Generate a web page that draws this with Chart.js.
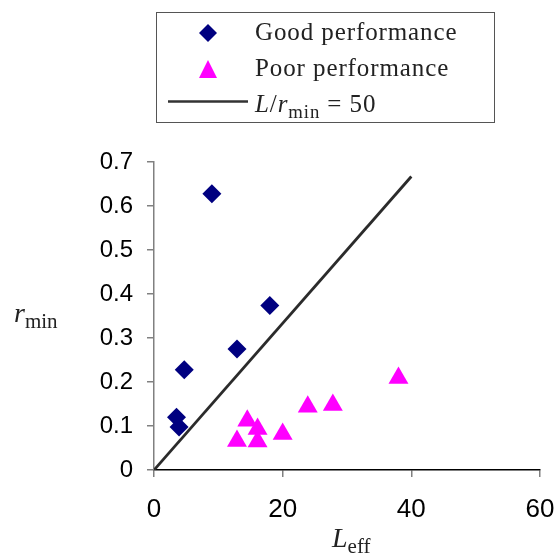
<!DOCTYPE html>
<html lang="en">
<head>
    <meta charset="UTF-8">
    <title>r_min vs L_eff</title>
    <script src="https://cdn.jsdelivr.net/npm/chart.js"></script>
    <style>
        body { margin: 0; background: #fff; }
        #wrap { position: relative; width: 560px; height: 554px; }
        #chart { position: absolute; left: 0; top: 0; }
        .serif { font-family: "Liberation Serif", "Times New Roman", serif; color: #222; position: absolute; white-space: nowrap; line-height: 1; }
        #legend { position: absolute; left: 156px; top: 12px; width: 337px; height: 109px; border: 1px solid #555; }
        .lg-text { font-size: 25px; letter-spacing: 0.9px; }
        .ax { font-size: 28px; }
        sub { font-size: 0.75em; vertical-align: -0.3em; font-style: normal; }
        i { font-style: italic; }
    </style>
</head>
<body>
<div id="wrap">
    <canvas id="chart" width="560" height="554"></canvas>

    <div id="legend">
        <svg width="337" height="109" style="position:absolute;left:0;top:0">
            <polygon points="51,11 60,20 51,29 42,20" fill="#000080"/>
            <polygon points="51,47 60,65 42,65" fill="#ff00ff"/>
            <line x1="11" y1="88.5" x2="91" y2="88.5" stroke="#333" stroke-width="2.5"/>
        </svg>
    </div>
    <span class="serif lg-text" style="left:255px;top:19px">Good performance</span>
    <span class="serif lg-text" style="left:255px;top:55px">Poor performance</span>
    <span class="serif lg-text" style="left:255px;top:91px"><i>L</i>/<i>r</i><sub>min</sub> = 50</span>

    <span class="serif ax" style="left:14px;top:299px"><i>r</i><sub>min</sub></span>
    <span class="serif ax" style="left:332px;top:524px"><i>L</i><sub>eff</sub></span>
</div>

<script>
    // good performance (diamonds)
    const goodX = [9.0, 18.0, 12.9, 4.7, 3.5, 3.9];
    const goodY = [0.628, 0.374, 0.275, 0.228, 0.120, 0.098];

    // poor performance (triangles)
    const poorX = [38.0, 27.8, 23.9, 14.5, 16.1, 20.0, 12.9, 16.1];
    const poorY = [0.209, 0.148, 0.144, 0.112, 0.093, 0.082, 0.066, 0.065];

    // L / r_min = 50 reference line
    const lineX = [0, 40];
    const lineY = [0, 0.667];

    const xTicks = [0, 20, 40, 60];
    const yTicks = [0, 0.1, 0.2, 0.3, 0.4, 0.5, 0.6, 0.7];

    function toPoints(xs, ys) {
        return xs.map((x, i) => ({ x: x, y: ys[i] }));
    }

    new Chart(document.getElementById('chart').getContext('2d'), {
        type: 'scatter',
        data: {
            datasets: [
                {
                    label: 'L/rmin = 50',
                    data: toPoints(lineX, lineY),
                    showLine: true,
                    borderColor: '#2b2b2b',
                    borderWidth: 2.8,
                    pointRadius: 0,
                    order: 3
                },
                {
                    label: 'Good performance',
                    data: toPoints(goodX, goodY),
                    pointStyle: 'rectRot',
                    pointRadius: 9.5,
                    backgroundColor: '#000080',
                    borderColor: '#000080',
                    borderWidth: 0,
                    order: 1
                },
                {
                    label: 'Poor performance',
                    data: toPoints(poorX, poorY),
                    pointStyle: 'triangle',
                    pointRadius: 11.5,
                    backgroundColor: '#ff00ff',
                    borderColor: '#ff00ff',
                    borderWidth: 0,
                    order: 2
                }
            ]
        },
        options: {
            responsive: false,
            animation: false,
            layout: { padding: { left: 0, top: 162, right: 20, bottom: 0 } },
            plugins: {
                legend: { display: false },
                tooltip: { enabled: false }
            },
            scales: {
                x: {
                    type: 'linear',
                    min: 0,
                    max: 60,
                    afterBuildTicks: s => { s.ticks = xTicks.map(v => ({ value: v })); },
                    afterFit: s => { s.height = 84; s.paddingLeft = 0; s.paddingRight = 0; },
                    border: { color: '#000', width: 1.5 },
                    grid: { drawOnChartArea: false, drawTicks: true, tickLength: 7, color: '#808080', lineWidth: 1.5 },
                    ticks: {
                        color: '#000',
                        padding: 17,
                        font: { family: 'Liberation Sans', size: 26 }
                    }
                },
                y: {
                    type: 'linear',
                    min: 0,
                    max: 0.7,
                    afterBuildTicks: s => { s.ticks = yTicks.map(v => ({ value: v })); },
                    afterFit: s => { s.width = 154; },
                    border: { color: '#808080', width: 1.5 },
                    grid: { drawOnChartArea: false, drawTicks: true, tickLength: 7, color: '#808080', lineWidth: 1.5 },
                    ticks: {
                        color: '#000',
                        padding: 14,
                        font: { family: 'Liberation Sans', size: 24 },
                        callback: v => v === 0 ? '0' : v.toFixed(1)
                    }
                }
            }
        }
    });
</script>
</body>
</html>
